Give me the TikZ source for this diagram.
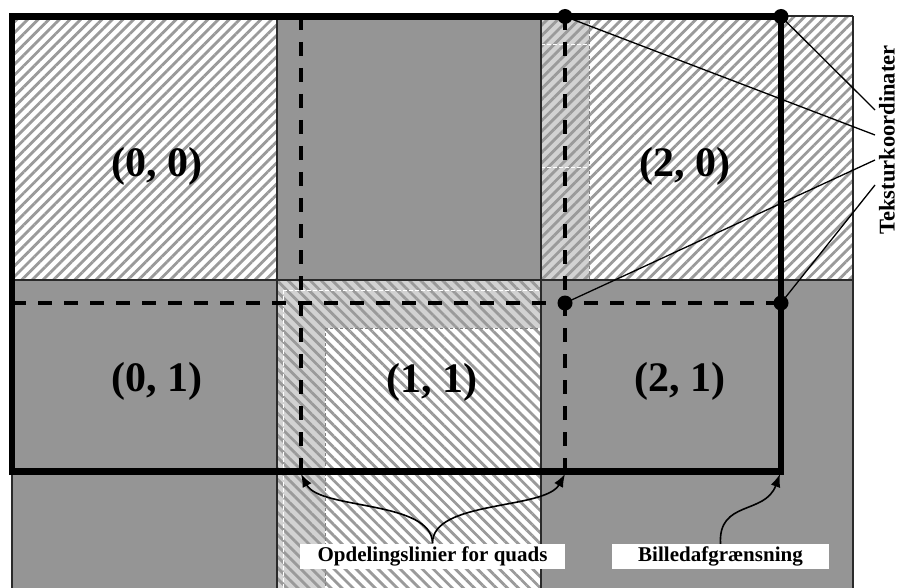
\documentclass[tikz,border=0pt]{standalone}
\usepackage{fontspec}
\setmainfont{Liberation Serif}
\usetikzlibrary{patterns.meta,arrows.meta}
\definecolor{cellgray}{HTML}{959595}
\definecolor{stripgray}{HTML}{D2D2D2}
\definecolor{hatchgray}{HTML}{9A9A9A}
\definecolor{gridline}{HTML}{2A2A2A}
\tikzset{
  hatchne/.style={pattern={Lines[angle=45,distance=7.5pt,line width=2.8pt]},pattern color=hatchgray},
  hatchnw/.style={pattern={Lines[angle=-45,distance=7.8pt,line width=2.8pt]},pattern color=hatchgray},
  gridstyle/.style={draw=gridline,line width=1.3pt},
  seam/.style={draw=gray,line width=0.6pt,dash pattern=on 3pt off 2pt},
  whiteseam/.style={draw=white,line width=0.6pt,dash pattern=on 4pt off 2pt},
  frameline/.style={draw=black,line width=6.5pt},
  dashline/.style={draw=black,line width=3.5pt,dash pattern=on 14pt off 12pt},
  dotstyle/.style={fill=black},
  pointer/.style={draw=black,line width=1.3pt},
  bracearrow/.style={draw=black,line width=1.6pt,-{Latex[length=13pt,width=10pt]}},
  cellname/.style={font=\fontsize{42}{46}\selectfont\bfseries},
  labtext/.style={font=\fontsize{21}{24}\selectfont\bfseries,inner sep=0pt},
  sidetext/.style={font=\fontsize{22.5}{26}\selectfont\bfseries,inner sep=0pt}
}
\begin{document}
\begin{tikzpicture}[x=1pt,y=-1pt]
\useasboundingbox (0,0) rectangle (899,588);
% cells
\fill[white] (12,16) rectangle (277,280);
\fill[hatchne] (12,16) rectangle (277,280);
\fill[cellgray] (277,16) rectangle (541,280);
\fill[white] (541,16) rectangle (853,280);
\fill[stripgray] (541,16) rectangle (589,280);
\fill[hatchne] (541,16) rectangle (853,280);
\fill[cellgray] (12,280) rectangle (277,588);
\fill[white] (277,280) rectangle (541,588);
\fill[stripgray] (277,280) rectangle (325,588);
\fill[stripgray] (325,280) rectangle (541,328);
\fill[hatchnw] (277,280) rectangle (541,588);
\fill[cellgray] (541,280) rectangle (853,588);
% texture seams
\draw[seam] (589,16) -- (589,280);
\draw[seam] (325,328) -- (325,588);
\draw[seam] (325,328) -- (541,328);
\draw[whiteseam] (541,44) -- (589,44);
\draw[whiteseam] (541,167) -- (589,167);
\draw[whiteseam] (283,290) -- (283,588);
\draw[whiteseam] (283,290) -- (541,290);
% grid
\draw[gridstyle] (12,16) -- (853,16);
\draw[gridstyle] (12,280) -- (853,280);
\draw[gridstyle] (12,16) -- (12,588);
\draw[gridstyle] (277,16) -- (277,588);
\draw[gridstyle] (541,16) -- (541,588);
\draw[gridstyle] (853,16) -- (853,588);
% cell labels
\node[cellname] (c00) at (157,166) {(0, 0)};
\node[cellname] (c20) at (685,166) {(2, 0)};
\node[cellname] (c01) at (157,381) {(0, 1)};
\node[cellname] (c11) at (432,382) {(1, 1)};
\node[cellname] (c21) at (680,381) {(2, 1)};
% quad division lines
\coordinate (q1) at (565,16.5);
\coordinate (q2) at (781,16.5);
\coordinate (q3) at (565,303);
\coordinate (q4) at (781,303);
\draw[dashline] (301,16) -- (301,471);
\draw[dashline] (565,16) -- (565,471);
\draw[dashline] (12,303) -- (781,303);
% image boundary
\draw[frameline] (12,16.5) rectangle (781,471.5);
% texture coordinate dots
\foreach \p in {q1,q2,q3,q4} \fill[dotstyle] (\p) circle (7.5);
% label Teksturkoordinater
\node[sidetext,rotate=90] (tk) at (887,140) {Teksturkoordinater};
\coordinate (e2) at (875,110);
\coordinate (e1) at (875,135);
\coordinate (e3) at (875,160);
\coordinate (e4) at (875,185);
\draw[pointer] (q1) -- (e1);
\draw[pointer] (q2) -- (e2);
\draw[pointer] (q3) -- (e3);
\draw[pointer] (q4) -- (e4);
% bottom labels
\node[labtext,fill=white,minimum width=265pt,minimum height=25pt] (opd) at (432.5,556) {Opdelingslinier for quads};
\node[labtext,fill=white,minimum width=217pt,minimum height=25pt] (bil) at (720.5,556.5) {Billedafgrænsning};
\coordinate (a1) at (301,474);
\coordinate (a2) at (565,474);
\coordinate (a3) at (780,474);
\draw[bracearrow] (opd.north) .. controls (432,500) and (320,510) .. (a1);
\draw[bracearrow] (opd.north) .. controls (432,500) and (545,510) .. (a2);
\draw[bracearrow] (bil.north) .. controls (718,500) and (765,515) .. (a3);
\end{tikzpicture}
\end{document}
